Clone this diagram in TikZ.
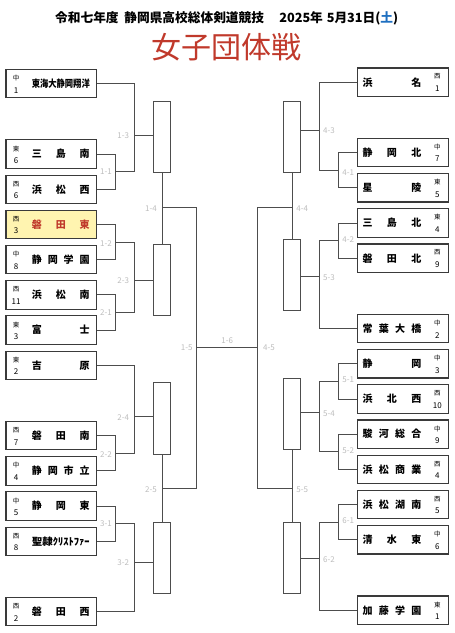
\documentclass[tikz,border=0pt]{standalone}
\usepackage{fontspec}
\setmainfont{Noto Sans CJK JP}
\usepackage{graphicx}
\definecolor{tred}{HTML}{C0392B}
\definecolor{tblue}{HTML}{1E6FC0}
\definecolor{hyel}{HTML}{FFF4B0}
\definecolor{linec}{HTML}{4D4D4D}
\definecolor{boxc}{HTML}{3A3A3A}
\definecolor{labc}{HTML}{BDBDBD}
\tikzset{
 teambox/.style={draw=boxc, line width=1.1pt, minimum width=90.7pt, minimum height=28.4pt, inner sep=0pt},
 wbox/.style={draw=linec, line width=1pt, minimum width=17.4pt, inner sep=0pt},
 conn/.style={draw=linec, line width=1pt},
 regc/.style={inner sep=0pt, font=\fontsize{6.5}{6.5}\selectfont},
 numc/.style={inner sep=0pt, font=\fontsize{8}{8}\selectfont},
 namec/.style={inner sep=0pt, anchor=west, font=\bfseries\fontsize{10}{10}\selectfont},
 mlab/.style={inner sep=0pt, text=labc, font=\fontsize{8}{8}\selectfont},
}
\newcommand\teamL[6][]{%
  \node[teambox,#1] (#2) at (51.35,#3) {};
  \node[regc] (#2r) at ([xshift=10.7pt,yshift=5.5pt]#2.west) {#4};
  \node[numc] (#2n) at ([xshift=10.7pt,yshift=-6.5pt]#2.west) {#5};
  \node[namec] (#2t) at ([xshift=26.3pt]#2.west) {\hbox to 57.7pt{#6}};}
\newcommand\teamR[6][]{%
  \node[teambox,#1] (#2) at (403,#3) {};
  \node[regc] (#2r) at ([xshift=-11.6pt,yshift=5.5pt]#2.east) {#4};
  \node[numc] (#2n) at ([xshift=-11.6pt,yshift=-6.5pt]#2.east) {#5};
  \node[namec] (#2t) at ([xshift=5.3pt]#2.west) {\hbox to 58.7pt{#6}};}
\begin{document}
\begin{tikzpicture}[x=1pt,y=-1pt]
\useasboundingbox (0,0) rectangle (455,633);
% titles
\node[font=\bfseries\fontsize{12.7}{12.7}\selectfont, inner sep=0pt] (ttl) at (226.7,18.3) {令和七年度\hspace{0.45em}静岡県高校総体剣道競技\hspace{1.2em}2025年\hspace{0.3em}5月31日(\textcolor{tblue}{土})};
\node[text=tred, font=\fontsize{30}{30}\selectfont, inner sep=0pt] (main) at (226.7,47.5) {女子団体戦};
% left teams
\teamL{L0}{83.7}{中}{1}{\hss\scalebox{0.83}[1]{東海大静岡翔洋}\hss}
\teamL{L2}{154.1}{東}{6}{三\hfill 島\hfill 南}
\teamL{L3}{189.3}{西}{6}{浜\hfill 松\hfill 西}
\teamL[fill=hyel]{L4}{224.5}{西}{3}{\color{tred}磐\hfill 田\hfill 東}
\teamL{L5}{259.7}{中}{8}{静\hfill 岡\hfill 学\hfill 園}
\teamL{L6}{294.9}{西}{11}{浜\hfill 松\hfill 南}
\teamL{L7}{330.1}{東}{3}{富\hfill 士}
\teamL{L8}{365.3}{東}{2}{吉\hfill 原}
\teamL{L10}{435.7}{西}{7}{磐\hfill 田\hfill 南}
\teamL{L11}{470.9}{中}{4}{静\hfill 岡\hfill 市\hfill 立}
\teamL{L12}{506.1}{中}{5}{静\hfill 岡\hfill 東}
\teamL{L13}{541.3}{西}{8}{\scalebox{1.05}[1]{聖隷ｸﾘｽﾄﾌｧｰ}\hss}
\teamL{L15}{611.7}{西}{2}{磐\hfill 田\hfill 西}
% right teams
\teamR{R0}{82.2}{西}{1}{浜\hfill 名}
\teamR{R2}{152.6}{中}{7}{静\hfill 岡\hfill 北}
\teamR{R3}{187.8}{東}{5}{星\hfill 陵}
\teamR{R4}{223}{東}{4}{三\hfill 島\hfill 北}
\teamR{R5}{258.2}{西}{9}{磐\hfill 田\hfill 北}
\teamR{R7}{328.6}{中}{2}{常\hfill 葉\hfill 大\hfill 橋}
\teamR{R8}{363.8}{中}{3}{静\hfill 岡}
\teamR{R9}{399}{西}{10}{浜\hfill 北\hfill 西}
\teamR{R10}{434.2}{中}{9}{駿\hfill 河\hfill 総\hfill 合}
\teamR{R11}{469.4}{西}{4}{浜\hfill 松\hfill 商\hfill 業}
\teamR{R12}{504.6}{西}{5}{浜\hfill 松\hfill 湖\hfill 南}
\teamR{R13}{539.8}{中}{6}{清\hfill 水\hfill 東}
\teamR{R15}{610.2}{東}{1}{加\hfill 藤\hfill 学\hfill 園}
% winner boxes
\node[wbox, minimum height=71.7pt] (LA) at (162,136.85) {};
\node[wbox, minimum height=71.7pt] (LB) at (162,279.85) {};
\node[wbox, minimum height=72pt] (LC) at (162,418.3) {};
\node[wbox, minimum height=71pt] (LD) at (162,557.5) {};
\node[wbox, minimum height=71.7pt] (RA) at (292.2,136.85) {};
\node[wbox, minimum height=71.4pt] (RB) at (292.2,275) {};
\node[wbox, minimum height=71pt] (RC) at (292.2,413.8) {};
\node[wbox, minimum height=71pt] (RD) at (292.2,557.5) {};
% left brackets
\coordinate (m11) at (115.7,171.7); \coordinate (e11) at (134.7,171.7);
\draw[conn] (L2.east) -| (m11) |- (L3.east);
\draw[conn] (L0.east) -| (e11) -- (m11);
\coordinate (h13) at (134.7,135);
\draw[conn] (h13) -- (h13 -| LA.west);
\coordinate (m12) at (115.7,242.1); \coordinate (e12) at (134.7,242.1);
\coordinate (m21) at (115.7,312.5); \coordinate (e21) at (134.7,312.5);
\draw[conn] (L4.east) -| (m12) |- (L5.east);
\draw[conn] (L6.east) -| (m21) |- (L7.east);
\draw[conn] (m12) -- (e12) -- (e21) -- (m21);
\coordinate (h23) at (134.7,280.7);
\draw[conn] (h23) -- (h23 -| LB.west);
\coordinate (m22) at (115.7,453.3); \coordinate (e22) at (134.7,453.3);
\draw[conn] (L10.east) -| (m22) |- (L11.east);
\draw[conn] (L8.east) -| (e22) -- (m22);
\coordinate (h24) at (134.7,416.7);
\draw[conn] (h24) -- (h24 -| LC.west);
\coordinate (m31) at (115.7,523.7); \coordinate (e31) at (134.7,523.7);
\draw[conn] (L12.east) -| (m31) |- (L13.east);
\draw[conn] (m31) -- (e31) |- (L15.east);
\coordinate (h32) at (134.7,562.3);
\draw[conn] (h32) -- (h32 -| LD.west);
% right brackets
\coordinate (m41) at (338.3,170.2); \coordinate (e41) at (319.3,170.2);
\draw[conn] (R2.west) -| (m41) |- (R3.west);
\draw[conn] (R0.west) -| (e41) -- (m41);
\coordinate (h43) at (319.3,130.7);
\draw[conn] (h43) -- (h43 -| RA.east);
\coordinate (m42) at (338.3,240.6); \coordinate (e42) at (319.3,240.6);
\draw[conn] (R4.west) -| (m42) |- (R5.west);
\draw[conn] (m42) -- (e42) |- (R7.west);
\coordinate (h53) at (319.3,276.7);
\draw[conn] (h53) -- (h53 -| RB.east);
\coordinate (m51) at (338.3,381.4); \coordinate (e51) at (319.3,381.4);
\coordinate (m52) at (338.3,451.8); \coordinate (e52) at (319.3,451.8);
\draw[conn] (R8.west) -| (m51) |- (R9.west);
\draw[conn] (R10.west) -| (m52) |- (R11.west);
\draw[conn] (m51) -- (e51) -- (e52) -- (m52);
\coordinate (h54) at (319.3,412.7);
\draw[conn] (h54) -- (h54 -| RC.east);
\coordinate (m61) at (338.3,522.2); \coordinate (e61) at (319.3,522.2);
\draw[conn] (R12.west) -| (m61) |- (R13.west);
\draw[conn] (m61) -- (e61) |- (R15.west);
\coordinate (h62) at (319.3,558.7);
\draw[conn] (h62) -- (h62 -| RD.east);
% center
\coordinate (c14) at (196.7,207.7); \coordinate (c25) at (196.7,488.3);
\coordinate (c15) at (196.7,347.7); \coordinate (c45) at (257.7,347.7);
\coordinate (c44) at (257.7,207.7); \coordinate (c55) at (257.7,488.3);
\draw[conn] (LA.south) -- (LB.north);
\draw[conn] (LC.south) -- (LD.north);
\draw[conn] (LA.south |- c14) -- (c14) -- (c25) -- (LC.south |- c25);
\draw[conn] (c15) -- (c45);
\draw[conn] (RA.south) -- (RB.north);
\draw[conn] (RC.south) -- (RD.north);
\draw[conn] (RA.south |- c44) -- (c44) -- (c55) -- (RC.south |- c55);
% match labels
\node[mlab] (l11) at (106,171.7) {1-1};
\node[mlab] (l13) at (123.3,136) {1-3};
\node[mlab] (l12) at (106,243.3) {1-2};
\node[mlab] (l23) at (123.3,281) {2-3};
\node[mlab] (l21) at (106,312.7) {2-1};
\node[mlab] (l24) at (123.3,417.3) {2-4};
\node[mlab] (l22) at (106,455) {2-2};
\node[mlab] (l31) at (106,524) {3-1};
\node[mlab] (l32) at (123.3,563) {3-2};
\node[mlab] (l14) at (151,208.3) {1-4};
\node[mlab] (l25) at (151,490) {2-5};
\node[mlab] (l15) at (186.7,347.7) {1-5};
\node[mlab] (l16) at (227.3,341) {1-6};
\node[mlab] (l45) at (269,347.7) {4-5};
\node[mlab] (l44) at (302.3,208.3) {4-4};
\node[mlab] (l55) at (302.3,489.7) {5-5};
\node[mlab] (l43) at (329,131) {4-3};
\node[mlab] (l41) at (348.3,172.3) {4-1};
\node[mlab] (l42) at (348.3,240) {4-2};
\node[mlab] (l53) at (329,277.7) {5-3};
\node[mlab] (l51) at (348.3,380) {5-1};
\node[mlab] (l52) at (348.3,451) {5-2};
\node[mlab] (l54) at (329,414) {5-4};
\node[mlab] (l61) at (348.3,520.3) {6-1};
\node[mlab] (l62) at (329,559.7) {6-2};
\end{tikzpicture}
\end{document}
